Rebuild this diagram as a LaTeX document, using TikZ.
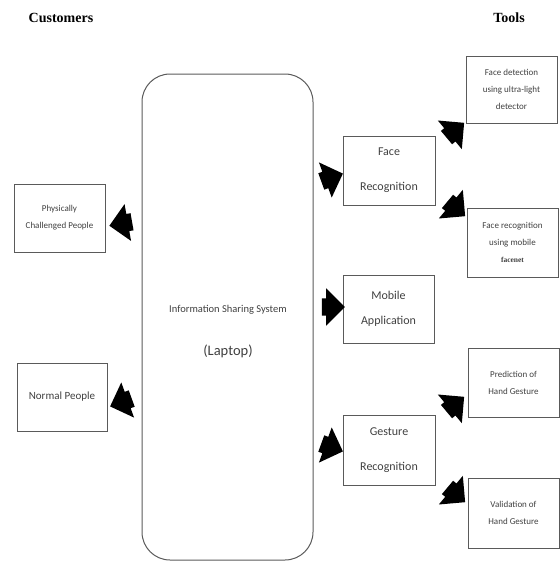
\documentclass[tikz,border=0pt]{standalone}
\usepackage{fontspec}
\setmainfont{Carlito}
\newfontfamily\titlefont{Liberation Serif}
\usetikzlibrary{shapes.arrows}
\definecolor{boxline}{HTML}{5A5A5A}
\definecolor{txt}{HTML}{404040}
\tikzset{
  box/.style={draw=boxline, line width=1pt, inner sep=2pt, align=center, text=txt},
  smallbox/.style={box, minimum width=91pt, font=\fontsize{9}{17}\selectfont},
  midbox/.style={box, minimum width=92pt, font=\fontsize{12}{35}\selectfont},
  blockarrow/.style={single arrow, fill=black, draw=none, inner sep=0pt,
    minimum height=23pt, single arrow head extend=10pt,
    single arrow head indent=0pt},
  title/.style={font=\titlefont\bfseries\fontsize{14}{16}\selectfont, text=black}
}
\newcommand{\shaft}{\rule{0pt}{17pt}}
\begin{document}
\begin{tikzpicture}[x=1pt,y=-1pt]
\useasboundingbox (0,0) rectangle (560,563);
% titles
\node[title] (customers) at (61,18) {Customers};
\node[title] (tools) at (509,18) {Tools};
% main box
\node[box, rounded corners=28pt, minimum width=171pt, minimum height=486pt] (main) at (227.5,317) {};
\node[text=txt, font=\fontsize{10.5}{12}\selectfont] (info) at (228,310) {Information Sharing System};
\node[text=txt, font=\fontsize{14.5}{16}\selectfont] (laptop) at (228,351) {(Laptop)};
% customers
\node[smallbox, minimum height=68pt] (phys) at (59.5,218) {Physically\\Challenged People};
\node[box, minimum width=90pt, minimum height=68pt, font=\fontsize{11}{13}\selectfont] (normal) at (62,397) {Normal People};
% middle
\node[midbox, minimum height=69pt] (facerec) at (389,170.5) {Face\\Recognition};
\node[box, minimum width=91pt, minimum height=68pt, font=\fontsize{12}{25}\selectfont] (mobile) at (388.5,309) {Mobile\\Application};
\node[midbox, minimum height=70pt] (gesture) at (389,450) {Gesture\\Recognition};
% tools
\node[smallbox, minimum height=67pt] (facedet) at (511.5,89.5) {Face detection\\using ultra-light\\detector};
\node[smallbox, minimum height=69pt] (facenet) at (512.5,242.5) {Face recognition\\using mobile\\{\titlefont\bfseries\fontsize{7.5}{9}\selectfont facenet}};
\node[smallbox, minimum height=69pt] (predict) at (513.5,382.5) {Prediction of\\Hand Gesture};
\node[smallbox, minimum height=70pt] (valid) at (513.5,513) {Validation of\\Hand Gesture};
% block arrows
\node[blockarrow, rotate=190] (aphys) at (125,223) {\shaft};
\node[blockarrow, rotate=200] (anorm) at (125,401) {\shaft};
\node[blockarrow, rotate=20] (afr) at (328,179) {\shaft};
\node[blockarrow, rotate=0] (amob) at (329,307) {\shaft};
\node[blockarrow, rotate=-20] (ages) at (328,446) {\shaft};
\node[blockarrow, rotate=40] (afd) at (452,133) {\shaft};
\node[blockarrow, rotate=-40] (afn) at (453,206) {\shaft};
\node[blockarrow, rotate=40] (apr) at (452,407) {\shaft};
\node[blockarrow, rotate=-40] (ava) at (453,492) {\shaft};
\end{tikzpicture}
\end{document}
